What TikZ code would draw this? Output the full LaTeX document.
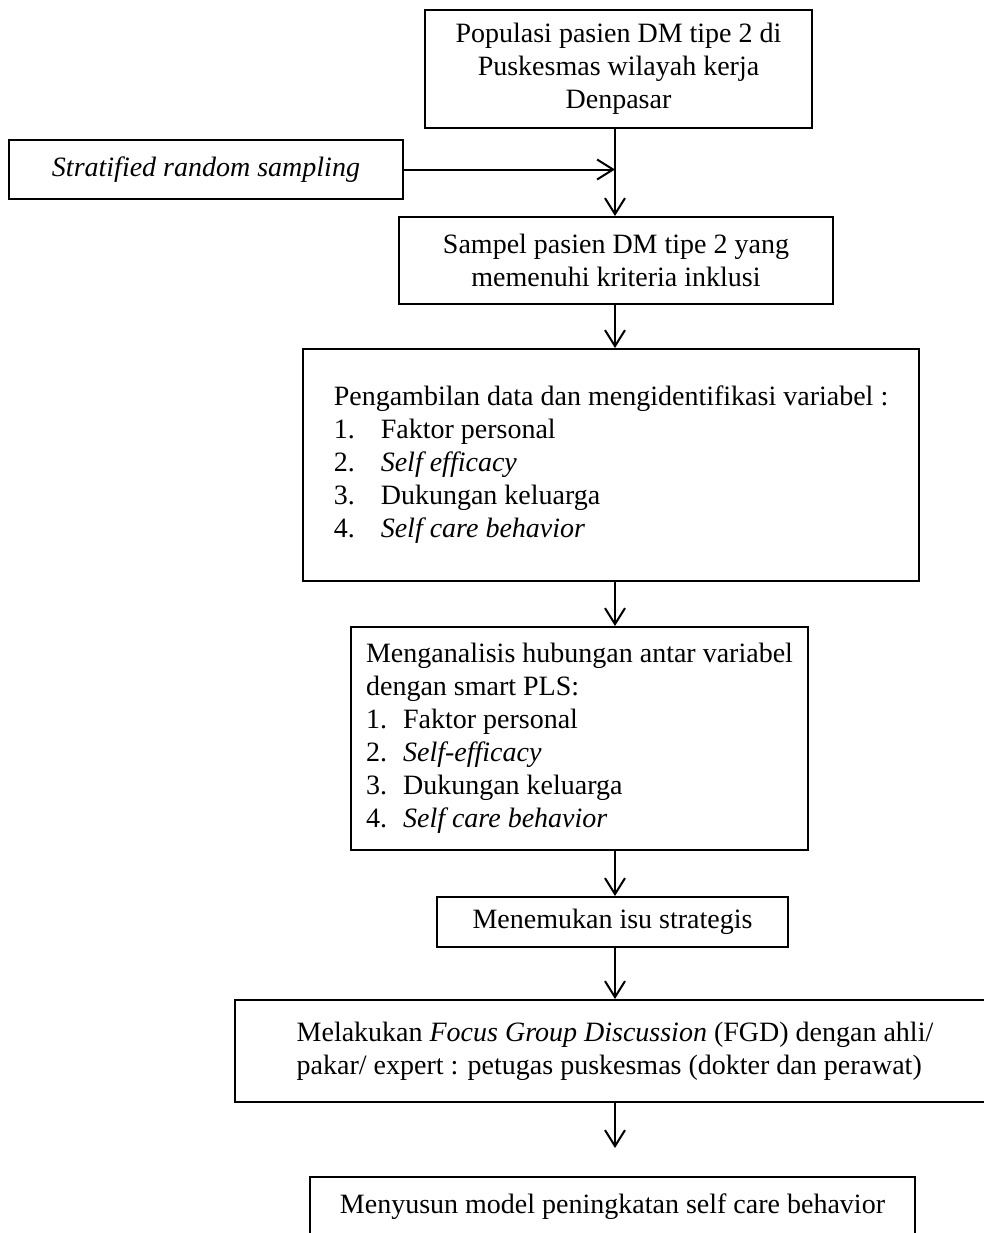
\documentclass[tikz,border=0pt]{standalone}
\usepackage{fontspec}
\setmainfont{Liberation Serif}
\usetikzlibrary{arrows.meta}

\tikzset{
  box/.style={draw, line width=1pt, inner sep=0pt, align=center},
  listbox/.style={box, align=left},
  arr/.style={line width=1pt, -{Straight Barb[length=8pt,width=10pt]}}
}

\begin{document}
\begin{tikzpicture}[x=0.5pt,y=-0.5pt,font=\fontsize{14pt}{16.5pt}\selectfont]
\useasboundingbox (0,0) rectangle (984,1233);
\coordinate (spine) at (615,0);

\node[box, minimum width=193.5pt, minimum height=59pt] (pop) at (618.5,69)
  {Populasi pasien DM tipe 2 di\\ Puskesmas wilayah kerja\\ Denpasar};

\node[box, minimum width=197pt, minimum height=29.5pt] (strat) at (206,169.5)
  {\textit{Stratified random sampling}};

\node[box, minimum width=217pt, minimum height=43.5pt] (sam) at (616,260.5)
  {Sampel pasien DM tipe 2 yang\\ memenuhi kriteria inklusi};

\node[listbox, minimum width=308pt, minimum height=116pt] (data) at (611,465)
  {Pengambilan data dan mengidentifikasi variabel :\\
   \makebox[23.5pt][l]{1.}Faktor personal\\
   \makebox[23.5pt][l]{2.}\textit{Self efficacy}\\
   \makebox[23.5pt][l]{3.}Dukungan keluarga\\
   \makebox[23.5pt][l]{4.}\textit{Self care behavior}};

\node[listbox, minimum width=228.5pt, minimum height=111.5pt] (anal) at (579.5,738.5)
  {Menganalisis hubungan antar variabel\\
   dengan smart PLS:\\
   \makebox[18.5pt][l]{1.}Faktor personal\\
   \makebox[18.5pt][l]{2.}\textit{Self-efficacy}\\
   \makebox[18.5pt][l]{3.}Dukungan keluarga\\
   \makebox[18.5pt][l]{4.}\textit{Self care behavior}};

\node[box, minimum width=175.5pt, minimum height=25pt] (isu) at (612.5,922)
  {Menemukan isu strategis};

\node[listbox, minimum width=380pt, minimum height=51pt] (fgd) at (615,1051)
  {Melakukan \textit{Focus Group Discussion} (FGD) dengan ahli/\\
   pakar/ expert : petugas puskesmas (dokter dan perawat)};

\node[box, minimum width=302.5pt, minimum height=29.5pt] (model) at (612.5,1206.5)
  {Menyusun model peningkatan self care behavior};

\draw[arr] (pop.south -| spine) -- (sam.north -| spine);
\draw[arr] (strat.east) -- (strat.east -| spine);
\draw[arr] (sam.south -| spine) -- (data.north -| spine);
\draw[arr] (data.south -| spine) -- (anal.north -| spine);
\draw[arr] (anal.south -| spine) -- (isu.north -| spine);
\draw[arr] (isu.south -| spine) -- (fgd.north -| spine);
\draw[arr, shorten >=14pt] (fgd.south -| spine) -- (model.north -| spine);
\end{tikzpicture}
\end{document}
